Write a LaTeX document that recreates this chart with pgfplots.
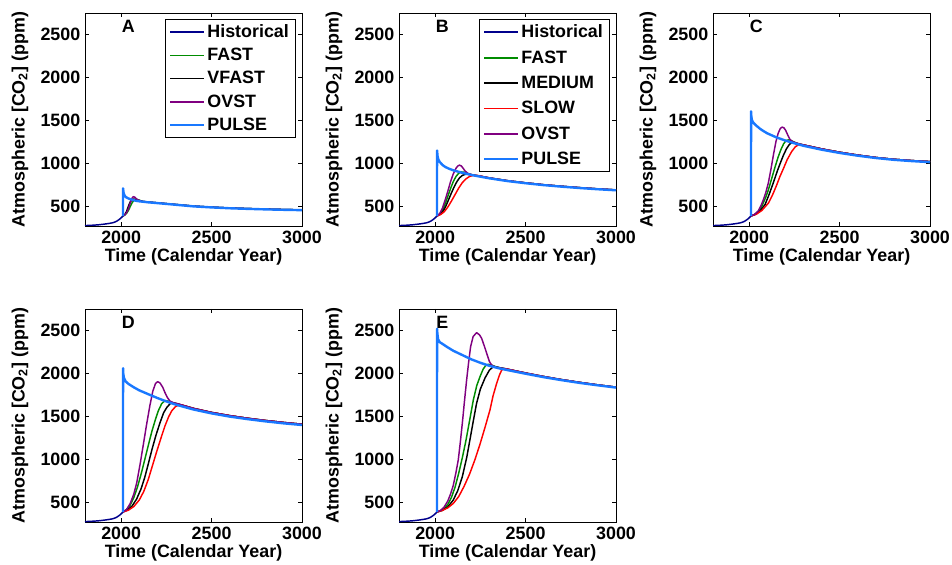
\documentclass[border=0pt]{standalone}
\usepackage{fontspec}
\setmainfont{Liberation Sans}
\usepackage{pgfplots}
\pgfplotsset{compat=1.18}

\definecolor{histc}{RGB}{0,0,140}
\definecolor{fastc}{RGB}{0,140,0}
\definecolor{ovstc}{RGB}{128,0,128}
\definecolor{pulsec}{RGB}{25,120,255}
\newcommand\ff{\fontsize{13.4pt}{16pt}\selectfont\bfseries}

\pgfplotsset{
  panel/.style={
    scale only axis, width=162.75pt, height=159.75pt,
    anchor=north west,
    xmin=1800, xmax=3000, ymin=275, ymax=2750,
    xtick={2000,2500,3000}, ytick={500,1000,1500,2000,2500},
    tick align=inside, major tick length=3pt,
    /pgf/number format/assume math mode=true,
    /pgf/number format/set thousands separator={},
    ticklabel style={font=\ff},
    axis line style={line width=0.7pt},
    every tick/.style={line width=0.6pt, black},
    label style={font=\ff},
    xlabel={Time (Calendar Year)},
    ylabel={Atmospheric [CO\textsubscript{2}] (ppm)},
    xlabel style={at={(axis description cs:0.5,-0.146)}, anchor=center},
    ylabel style={at={(axis description cs:-0.30,0.5)}, anchor=center},
    legend cell align=left,
    legend image code/.code={\draw[##1] (0pt,0pt) -- (25pt,0pt);},
    legend style={at={(0.972,0.972)}, anchor=north east, draw=black,
      line width=0.6pt, font=\ff, inner xsep=3pt, inner ysep=2pt,
      row sep=2.5pt, fill=white},
  },
  sHist/.style={histc, line width=1.1pt, line join=round},
  sFast/.style={fastc, line width=1.1pt, line join=round},
  sMed/.style={black, line width=1.1pt, line join=round},
  sSlow/.style={red, line width=1.1pt, line join=round},
  sOvst/.style={ovstc, line width=1.1pt, line join=round},
  sPulse/.style={pulsec, line width=1.8pt, line join=round},
}

\newcommand\histdata{(1800,280) (1825,282) (1850,285) (1875,289) (1900,295) (1925,302) (1950,311) (1960,317) (1970,325) (1980,337) (1990,352) (2000,370) (2005,380) (2010,391)}

\begin{document}
\begin{tikzpicture}
\path[use as bounding box] (0,0) rectangle (714pt,423pt);

% ---- A
\begin{axis}[panel, at={(63.75pt,413.25pt)}]
\addplot[sHist] coordinates {\histdata};
\addlegendentry{Historical}
\addplot[sFast] coordinates {(2010,391) (2020,402) (2030,422) (2040,455) (2050,500) (2060,543) (2070,572) (2080,585) (2090,582) (2100,574) (2120,560) (2150,553) (2200,544) (2300,525) (2400,506) (2500,494) (2600,484) (2700,477) (2800,471) (2900,466) (3000,462)};
\addlegendentry{FAST}
\addplot[sMed] coordinates {(2010,391) (2020,408) (2030,445) (2040,505) (2050,555) (2060,582) (2070,588) (2080,583) (2100,572) (2120,560) (2150,553) (2200,544) (2300,525) (2400,506) (2500,494) (2600,484) (2700,477) (2800,471) (2900,466) (3000,462)};
\addlegendentry{VFAST}
\addplot[sOvst] coordinates {(2010,391) (2020,404) (2030,430) (2040,475) (2050,540) (2060,598) (2067,616) (2075,610) (2085,590) (2100,570) (2120,560) (2150,553) (2200,544) (2300,525) (2400,506) (2500,494) (2600,484) (2700,477) (2800,471) (2900,466) (3000,462)};
\addlegendentry{OVST}
\addplot[sPulse] coordinates {(2010,391) (2010.5,712) (2013,665) (2017,636) (2025,612) (2040,595) (2060,580) (2080,569) (2100,562) (2150,550) (2200,541) (2300,522) (2400,503) (2500,491) (2600,481) (2700,474) (2800,468) (2900,463) (3000,459)};
\addlegendentry{PULSE}
\node[font=\ff] at (axis cs:2040,2590) {A};
\end{axis}

% ---- B
\begin{axis}[panel, at={(299.25pt,413.25pt)}, legend style={row sep=4.2pt}]
\addplot[sHist] coordinates {\histdata};
\addlegendentry{Historical}
\addplot[sFast] coordinates {(2010,391) (2025,412) (2040,458) (2055,530) (2070,620) (2085,710) (2100,790) (2115,850) (2130,888) (2145,903) (2160,900) (2175,888) (2190,877) (2210,866) (2230,860) (2250,853) (2300,833) (2400,801) (2500,776) (2600,754) (2700,736) (2800,720) (2900,706) (3000,694)};
\addlegendentry{FAST}
\addplot[sMed] coordinates {(2010,391) (2030,414) (2045,450) (2060,510) (2075,585) (2090,660) (2105,730) (2120,790) (2135,835) (2150,862) (2165,875) (2180,877) (2200,872) (2220,864) (2250,853) (2300,833) (2400,801) (2500,776) (2600,754) (2700,736) (2800,720) (2900,706) (3000,694)};
\addlegendentry{MEDIUM}
\addplot[sSlow] coordinates {(2010,391) (2030,408) (2050,440) (2070,495) (2090,565) (2110,640) (2130,715) (2150,778) (2170,822) (2190,850) (2210,863) (2230,864) (2250,856) (2300,834) (2400,801) (2500,776) (2600,754) (2700,736) (2800,720) (2900,706) (3000,694)};
\addlegendentry{SLOW}
\addplot[sOvst] coordinates {(2010,391) (2025,420) (2040,480) (2055,575) (2070,680) (2085,790) (2100,880) (2115,945) (2125,972) (2135,982) (2145,972) (2155,945) (2165,915) (2180,888) (2200,872) (2220,862) (2250,853) (2300,833) (2400,801) (2500,776) (2600,754) (2700,736) (2800,720) (2900,706) (3000,694)};
\addlegendentry{OVST}
\addplot[sPulse] coordinates {(2010,391) (2010.5,1152) (2013,1090) (2017,1050) (2025,1020) (2040,985) (2055,962) (2075,942) (2100,922) (2150,893) (2200,868) (2250,848) (2300,829) (2400,797) (2500,772) (2600,750) (2700,732) (2800,716) (2900,702) (3000,690)};
\addlegendentry{PULSE}
\node[font=\ff] at (axis cs:2040,2590) {B};
\end{axis}

% ---- C
\begin{axis}[panel, at={(534.75pt,413.25pt)}]
\addplot[sHist] coordinates {\histdata};
\addplot[sFast] coordinates {(2010,391) (2030,408) (2050,445) (2070,505) (2090,600) (2106,693) (2125,830) (2143,960) (2160,1075) (2175,1160) (2190,1228) (2200,1257) (2210,1272) (2222,1276) (2235,1265) (2250,1248) (2270,1232) (2285,1224) (2300,1217) (2400,1171) (2500,1132) (2600,1099) (2700,1071) (2800,1050) (2900,1035) (3000,1023)};
\addplot[sMed] coordinates {(2010,391) (2035,410) (2060,450) (2088,525) (2110,640) (2134,780) (2155,910) (2171,1000) (2190,1100) (2207,1175) (2222,1222) (2235,1243) (2248,1245) (2263,1235) (2280,1225) (2300,1217) (2400,1171) (2500,1132) (2600,1099) (2700,1071) (2800,1050) (2900,1035) (3000,1023)};
\addplot[sSlow] coordinates {(2010,391) (2040,412) (2070,455) (2106,540) (2130,640) (2152,750) (2170,850) (2189,940) (2210,1045) (2235,1140) (2255,1195) (2270,1215) (2285,1222) (2300,1217) (2400,1171) (2500,1132) (2600,1099) (2700,1071) (2800,1050) (2900,1035) (3000,1023)};
\addplot[sOvst] coordinates {(2010,391) (2030,410) (2050,450) (2065,510) (2078,577) (2092,665) (2106,775) (2120,930) (2134,1100) (2148,1255) (2160,1350) (2172,1408) (2182,1424) (2192,1416) (2202,1385) (2214,1330) (2226,1280) (2240,1255) (2260,1240) (2280,1228) (2300,1217) (2400,1171) (2500,1132) (2600,1099) (2700,1071) (2800,1050) (2900,1035) (3000,1023)};
\addplot[sPulse] coordinates {(2010,391) (2010.5,1607) (2012,1545) (2016,1500) (2025,1470) (2040,1440) (2060,1405) (2080,1377) (2100,1352) (2150,1305) (2200,1268) (2250,1236) (2300,1207) (2400,1162) (2500,1124) (2600,1092) (2700,1065) (2800,1044) (2900,1029) (3000,1017)};
\node[font=\ff] at (axis cs:2040,2590) {C};
\end{axis}

% ---- D
\begin{axis}[panel, at={(63.75pt,191.25pt)}]
\addplot[sHist] coordinates {\histdata};
\addplot[sFast] coordinates {(2010,391) (2030,420) (2050,470) (2070,560) (2090,680) (2110,830) (2130,995) (2150,1165) (2170,1330) (2190,1470) (2205,1565) (2224,1650) (2242,1685) (2260,1680) (2279,1665) (2300,1652) (2325,1638) (2350,1625) (2400,1595) (2500,1548) (2600,1511) (2700,1480) (2800,1454) (2900,1431) (3000,1411)};
\addplot[sMed] coordinates {(2010,391) (2035,415) (2060,460) (2085,540) (2110,660) (2130,790) (2150,950) (2170,1115) (2192,1280) (2215,1430) (2235,1545) (2252,1605) (2270,1648) (2285,1660) (2300,1655) (2325,1640) (2350,1625) (2400,1595) (2500,1548) (2600,1511) (2700,1480) (2800,1454) (2900,1431) (3000,1411)};
\addplot[sSlow] coordinates {(2010,391) (2040,412) (2070,455) (2100,530) (2125,630) (2150,770) (2173,930) (2196,1090) (2220,1250) (2242,1390) (2262,1495) (2279,1565) (2300,1615) (2320,1635) (2340,1632) (2350,1625) (2400,1595) (2500,1548) (2600,1511) (2700,1480) (2800,1454) (2900,1431) (3000,1411)};
\addplot[sOvst] coordinates {(2010,391) (2030,420) (2050,490) (2070,600) (2086,730) (2105,950) (2123,1180) (2140,1400) (2159,1630) (2175,1795) (2190,1885) (2202,1906) (2215,1890) (2230,1840) (2242,1780) (2256,1720) (2270,1680) (2290,1660) (2320,1645) (2350,1625) (2400,1595) (2500,1548) (2600,1511) (2700,1480) (2800,1454) (2900,1431) (3000,1411)};
\addplot[sPulse] coordinates {(2010,391) (2010.5,2062) (2012,1990) (2016,1945) (2025,1908) (2040,1880) (2070,1840) (2100,1805) (2150,1760) (2200,1716) (2250,1676) (2300,1640) (2400,1582) (2500,1537) (2600,1500) (2700,1470) (2800,1444) (2900,1421) (3000,1402)};
\node[font=\ff] at (axis cs:2040,2590) {D};
\end{axis}

% ---- E
\begin{axis}[panel, at={(299.25pt,191.25pt)}]
\addplot[sHist] coordinates {\histdata};
\addplot[sFast] coordinates {(2010,391) (2030,405) (2050,430) (2070,480) (2090,560) (2110,680) (2130,840) (2150,1020) (2170,1220) (2190,1450) (2211,1693) (2230,1860) (2248,1964) (2265,2050) (2280,2095) (2294,2107) (2310,2100) (2325,2088) (2345,2072) (2365,2064) (2400,2050) (2500,2006) (2600,1965) (2700,1929) (2800,1897) (2900,1868) (3000,1842)};
\addplot[sMed] coordinates {(2010,391) (2040,410) (2070,450) (2100,530) (2125,640) (2150,800) (2175,1030) (2193,1240) (2211,1450) (2229,1654) (2250,1820) (2276,1950) (2300,2040) (2322,2080) (2340,2076) (2360,2066) (2400,2050) (2500,2006) (2600,1965) (2700,1929) (2800,1897) (2900,1868) (3000,1842)};
\addplot[sSlow] coordinates {(2010,391) (2040,410) (2070,440) (2100,490) (2130,570) (2160,690) (2190,830) (2220,1000) (2248,1180) (2275,1370) (2303,1576) (2320,1740) (2340,1886) (2355,1980) (2368,2041) (2385,2058) (2400,2052) (2500,2006) (2600,1965) (2700,1929) (2800,1897) (2900,1868) (3000,1842)};
\addplot[sOvst] coordinates {(2010,391) (2030,410) (2050,450) (2070,520) (2085,600) (2100,700) (2115,850) (2128,1000) (2140,1220) (2152,1460) (2163,1700) (2174,1925) (2185,2130) (2196,2312) (2210,2430) (2229,2475) (2245,2450) (2257,2409) (2270,2330) (2285,2235) (2300,2140) (2312,2099) (2330,2078) (2350,2068) (2375,2060) (2400,2050) (2500,2006) (2600,1965) (2700,1929) (2800,1897) (2900,1868) (3000,1842)};
\addplot[sPulse] coordinates {(2010,391) (2010.5,2520) (2012,2470) (2016,2400) (2025,2365) (2040,2345) (2065,2310) (2100,2265) (2150,2215) (2200,2165) (2250,2125) (2300,2090) (2350,2062) (2400,2040) (2500,1998) (2600,1958) (2700,1923) (2800,1891) (2900,1863) (3000,1837)};
\node[font=\ff] at (axis cs:2040,2590) {E};
\end{axis}
\end{tikzpicture}
\end{document}
